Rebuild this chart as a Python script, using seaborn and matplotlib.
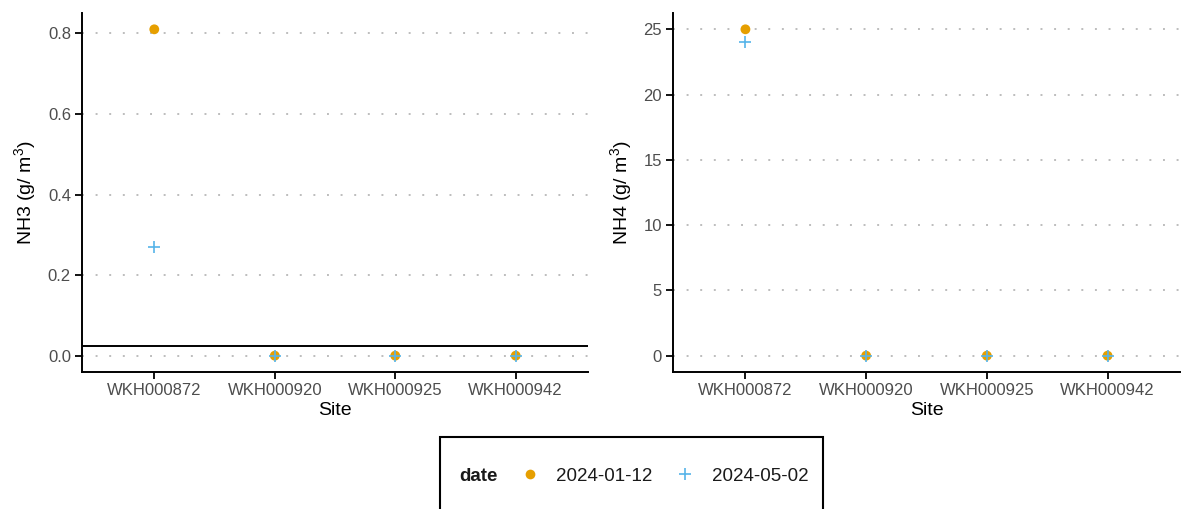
import numpy as np
import pandas as pd
import matplotlib
matplotlib.use("Agg")
import matplotlib.pyplot as plt
import seaborn as sns
from matplotlib.lines import Line2D
from matplotlib.patches import Rectangle

# ---- data ----
sites = ["WKH000872", "WKH000920", "WKH000925", "WKH000942"]
dates = ["2024-01-12", "2024-05-02"]
nh3_jan = [0.81, 0.0, 0.0, 0.0]
nh3_may = [0.27, 0.0, 0.0, 0.0]
nh4_jan = [25.0, 0.0, 0.0, 0.0]
nh4_may = [24.0, 0.0, 0.0, 0.0]
nh3_threshold = 0.025
nh3_ticks = [0.0, 0.2, 0.4, 0.6, 0.8]
nh4_ticks = [0, 5, 10, 15, 20, 25]

df = pd.DataFrame({
    "site": sites * 2,
    "date": [dates[0]] * 4 + [dates[1]] * 4,
    "NH3": nh3_jan + nh3_may,
    "NH4": nh4_jan + nh4_may,
})

sns.set_theme(style="white")
plt.rcParams["font.family"] = ["Liberation Sans", "DejaVu Sans"]
plt.rcParams["mathtext.fontset"] = "custom"
plt.rcParams["mathtext.rm"] = "Liberation Sans"
plt.rcParams["mathtext.it"] = "Liberation Sans:italic"

colors = {"2024-01-12": "#E69F00", "2024-05-02": "#56B4E9"}
markers = {"2024-01-12": "o", "2024-05-02": "+"}

W, H = 1181, 509
fig = plt.figure(figsize=(W / 100, H / 100), dpi=100)
ax1 = fig.add_axes([82 / W, 1 - 372 / H, (588 - 82) / W, (372 - 13) / H])
ax2 = fig.add_axes([673 / W, 1 - 372 / H, (1180 - 673) / W, (372 - 13) / H])

def draw(ax, col, ticks, ylab, ylim):
    for d in dates:
        sub = df[df["date"] == d]
        if markers[d] == "o":
            sns.scatterplot(data=sub, x="site", y=col, ax=ax, marker="o",
                            color=colors[d], s=50, edgecolor="none", zorder=3)
        else:
            sns.scatterplot(data=sub, x="site", y=col, ax=ax, marker="+",
                            color=colors[d], s=80, linewidth=1.2, zorder=4)
    ax.set_xlim(-0.6, 3.6)
    ax.set_ylim(*ylim)
    ax.set_yticks(ticks)
    ax.set_yticklabels([f"{t:.1f}" if isinstance(t, float) else str(t) for t in ticks])
    ax.yaxis.grid(True, color="#bdbdbd", linestyle=(0, (1, 6)), linewidth=1.4)
    ax.xaxis.grid(False)
    ax.set_axisbelow(True)
    for s in ["top", "right"]:
        ax.spines[s].set_visible(False)
    for s in ["left", "bottom"]:
        ax.spines[s].set_color("black")
        ax.spines[s].set_linewidth(1.4)
    ax.tick_params(axis="both", which="major", length=5, width=1.3, color="black",
                   labelsize=12, labelcolor="#4D4D4D", pad=3, left=True, bottom=True,
                   direction="out")
    ax.set_xlabel("Site", fontsize=14, color="black", labelpad=3)
    ax.set_ylabel(ylab, fontsize=14, color="black", labelpad=7)
    if ax.get_legend() is not None:
        ax.get_legend().remove()

draw(ax1, "NH3", nh3_ticks, r"NH3 (g/ m$^{3}$)", (-0.0405, 0.8505))
ax1.axhline(nh3_threshold, color="black", linewidth=1.4, zorder=2)
draw(ax2, "NH4", nh4_ticks, r"NH4 (g/ m$^{3}$)", (-1.25, 26.25))

# ---- legend ----
handles = [
    Line2D([], [], linestyle="none", marker=None),
    Line2D([], [], linestyle="none", marker="o", markersize=7, color=colors[dates[0]],
           markeredgecolor="none"),
    Line2D([], [], linestyle="none", marker="+", markersize=9, markeredgewidth=1.2,
           color=colors[dates[1]]),
]
labels = ["date"] + dates
fs = 13.5
em = fs * 100 / 72
hl, htp = 1.0, 0.9
left_px = 455 - (hl + htp) * em
cx = (left_px + 812) / 2
leg = fig.legend(handles, labels, ncol=3, loc="center",
                 bbox_to_anchor=(cx / W, 1 - 476 / H), frameon=False,
                 fontsize=fs, handlelength=hl, handletextpad=htp, columnspacing=1.25,
                 borderpad=0.0)
for t in leg.get_texts():
    t.set_color("#1a1a1a")
leg.get_texts()[0].set_fontweight("bold")

frame = Rectangle((440 / W, -6 / H), (823 - 440) / W, 78 / H, transform=fig.transFigure,
                  fill=False, edgecolor="black", linewidth=1.5, clip_on=False)
fig.patches.append(frame)

fig.savefig("out.png", dpi=100)
